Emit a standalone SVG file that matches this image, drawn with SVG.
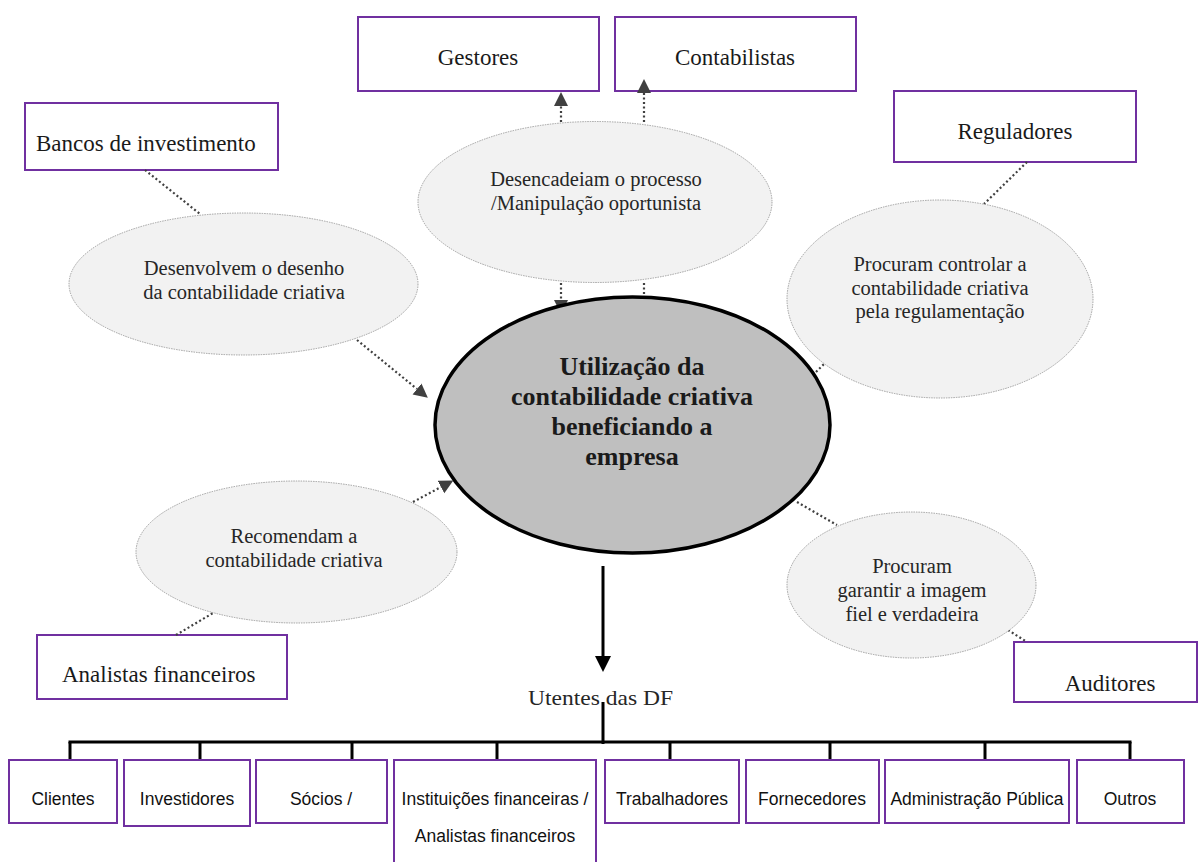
<svg xmlns="http://www.w3.org/2000/svg" width="1198" height="862" viewBox="0 0 1198 862">
  <defs>
    <style>
      .box { fill: #ffffff; stroke: #7030a0; stroke-width: 2; }
      .bubble { fill: #f2f2f2; stroke: #8c8c8c; stroke-width: 0.8; stroke-dasharray: 1.5 1; }
      .core { fill: #bfbfbf; stroke: #000000; stroke-width: 3.5; }
      .lbl { font-family: "Liberation Serif", "Times New Roman", serif; font-size: 23px; fill: #1a1a1a; }
      .btxt { font-family: "Liberation Serif", "Times New Roman", serif; font-size: 20.5px; fill: #262626; text-anchor: middle; }
      .ctxt { font-family: "Liberation Serif", "Times New Roman", serif; font-size: 26px; font-weight: bold; fill: #1a1a1a; text-anchor: middle; }
      .stxt { font-family: "Liberation Sans", Arial, sans-serif; font-size: 17.5px; fill: #111111; text-anchor: middle; }
      .dot { fill: none; stroke: #404040; stroke-width: 2.2; stroke-dasharray: 2 2.5; }
      .solid { fill: none; stroke: #000000; stroke-width: 3; }
    </style>
    <marker id="tri" markerUnits="userSpaceOnUse" markerWidth="16" markerHeight="16" viewBox="0 -8 16 16" refX="0" refY="0" orient="auto">
      <path d="M0,-7 L14,0 L0,7 z" fill="#404040"/>
    </marker>
    <marker id="triBlack" markerUnits="userSpaceOnUse" markerWidth="18" markerHeight="18" viewBox="0 -9 18 18" refX="0" refY="0" orient="auto">
      <path d="M0,-8 L16,0 L0,8 z" fill="#000000"/>
    </marker>
  </defs>

  <rect width="1198" height="862" fill="#ffffff"/>

  <!-- actors -->
  <g id="gestores">
    <rect class="box" x="358" y="17" width="241" height="74"/>
    <text class="lbl" x="478" y="65" text-anchor="middle">Gestores</text>
  </g>
  <g id="contabilistas">
    <rect class="box" x="615" y="17" width="241" height="74"/>
    <text class="lbl" x="735" y="65" text-anchor="middle">Contabilistas</text>
  </g>
  <g id="bancos">
    <rect class="box" x="25" y="103" width="253" height="67"/>
    <text class="lbl" x="36" y="151">Bancos de investimento</text>
  </g>
  <g id="reguladores">
    <rect class="box" x="894" y="91" width="242" height="71"/>
    <text class="lbl" x="1015" y="139" text-anchor="middle">Reguladores</text>
  </g>
  <g id="analistas">
    <rect class="box" x="37" y="635" width="250" height="64"/>
    <text class="lbl" x="62" y="682">Analistas financeiros</text>
  </g>
  <g id="auditores">
    <rect class="box" x="1014" y="642" width="183" height="60"/>
    <text class="lbl" x="1110" y="691" text-anchor="middle">Auditores</text>
  </g>

  <!-- connectors -->
  <g id="connectors">
    <line class="dot" x1="561" y1="122" x2="561" y2="106" marker-end="url(#tri)"/>
    <line class="dot" x1="644" y1="122" x2="644" y2="93" marker-end="url(#tri)"/>
    <line class="dot" x1="561" y1="283" x2="561" y2="300" marker-end="url(#tri)"/>
    <line class="dot" x1="644" y1="283" x2="644" y2="298"/>
    <line class="dot" x1="145" y1="170" x2="200" y2="214"/>
    <line class="dot" x1="357" y1="340" x2="417" y2="389" marker-end="url(#tri)"/>
    <line class="dot" x1="413" y1="502" x2="441" y2="487" marker-end="url(#tri)"/>
    <line class="dot" x1="176" y1="635" x2="213" y2="613"/>
    <line class="dot" x1="1027" y1="162" x2="984" y2="204"/>
    <line class="dot" x1="816" y1="372" x2="826" y2="362"/>
    <line class="dot" x1="797" y1="502" x2="837" y2="525"/>
    <line class="dot" x1="1008" y1="630" x2="1027" y2="642"/>
    <line class="solid" x1="603" y1="566" x2="603" y2="656" marker-end="url(#triBlack)"/>
    <line class="solid" x1="603" y1="702" x2="603" y2="744"/>
    <line class="solid" x1="68.5" y1="742" x2="1131.5" y2="742"/>
    <line class="solid" x1="70" y1="742" x2="70" y2="760"/>
    <line class="solid" x1="200" y1="742" x2="200" y2="760"/>
    <line class="solid" x1="352" y1="742" x2="352" y2="760"/>
    <line class="solid" x1="497" y1="742" x2="497" y2="760"/>
    <line class="solid" x1="670" y1="742" x2="670" y2="760"/>
    <line class="solid" x1="830" y1="742" x2="830" y2="760"/>
    <line class="solid" x1="985" y1="742" x2="985" y2="760"/>
    <line class="solid" x1="1130" y1="742" x2="1130" y2="760"/>
  </g>

  <!-- roles -->
  <g id="desencadeiam">
    <ellipse class="bubble" cx="595" cy="202" rx="177" ry="80.5"/>
    <text class="btxt" x="596" y="186">Desencadeiam o processo</text>
    <text class="btxt" x="596" y="210">/Manipulação oportunista</text>
  </g>
  <g id="desenvolvem">
    <ellipse class="bubble" cx="243.5" cy="284" rx="174.5" ry="71"/>
    <text class="btxt" x="244" y="275">Desenvolvem o desenho</text>
    <text class="btxt" x="244" y="299">da contabilidade criativa</text>
  </g>
  <g id="procuram-controlar">
    <ellipse class="bubble" cx="940" cy="299" rx="153" ry="99"/>
    <text class="btxt" x="940" y="271">Procuram controlar a</text>
    <text class="btxt" x="940" y="295">contabilidade criativa</text>
    <text class="btxt" x="940" y="318">pela regulamentação</text>
  </g>
  <g id="recomendam">
    <ellipse class="bubble" cx="296.5" cy="552" rx="160.5" ry="71"/>
    <text class="btxt" x="294" y="543">Recomendam a</text>
    <text class="btxt" x="294" y="567">contabilidade criativa</text>
  </g>
  <g id="procuram-garantir">
    <ellipse class="bubble" cx="911.5" cy="585" rx="124.5" ry="73"/>
    <text class="btxt" x="912" y="573">Procuram</text>
    <text class="btxt" x="912" y="597">garantir a imagem</text>
    <text class="btxt" x="912" y="621">fiel e verdadeira</text>
  </g>

  <!-- centre -->
  <g id="utilizacao">
    <ellipse class="core" cx="632.5" cy="425" rx="197.5" ry="128"/>
    <text class="ctxt" x="632" y="375">Utilização da</text>
    <text class="ctxt" x="632" y="405">contabilidade criativa</text>
    <text class="ctxt" x="632" y="435">beneficiando a</text>
    <text class="ctxt" x="632" y="465">empresa</text>
  </g>

  <g id="utentes">
    <text class="btxt" x="600.5" y="705" style="font-size:22px" textLength="145" lengthAdjust="spacingAndGlyphs">Utentes das DF</text>
  </g>

  <!-- users of the financial statements -->
  <g id="clientes">
    <rect class="box" x="9" y="760" width="108" height="63"/>
    <text class="stxt" x="63" y="805">Clientes</text>
  </g>
  <g id="investidores">
    <rect class="box" x="124" y="760" width="126" height="66"/>
    <text class="stxt" x="187" y="805">Investidores</text>
  </g>
  <g id="socios">
    <rect class="box" x="256" y="760" width="131" height="63"/>
    <text class="stxt" x="321" y="805">Sócios /</text>
  </g>
  <g id="instituicoes">
    <rect class="box" x="394" y="760" width="202" height="110"/>
    <text class="stxt" x="495" y="805">Instituições financeiras /</text>
    <text class="stxt" x="495" y="842">Analistas financeiros</text>
  </g>
  <g id="trabalhadores">
    <rect class="box" x="605" y="760" width="134" height="63"/>
    <text class="stxt" x="672" y="805">Trabalhadores</text>
  </g>
  <g id="fornecedores">
    <rect class="box" x="746" y="760" width="133" height="63"/>
    <text class="stxt" x="812" y="805">Fornecedores</text>
  </g>
  <g id="administracao">
    <rect class="box" x="885" y="760" width="184" height="63"/>
    <text class="stxt" x="977" y="805">Administração Pública</text>
  </g>
  <g id="outros">
    <rect class="box" x="1077" y="760" width="107" height="63"/>
    <text class="stxt" x="1130" y="805">Outros</text>
  </g>
</svg>
